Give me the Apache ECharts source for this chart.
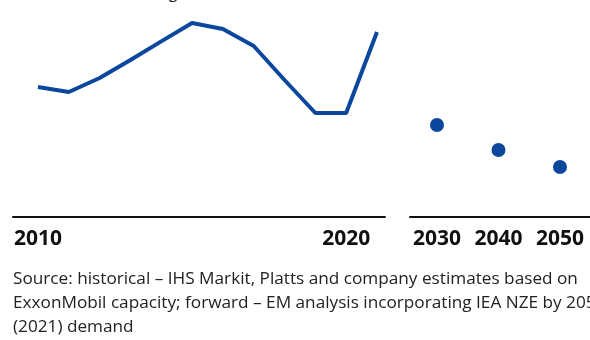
<!DOCTYPE html>
<html>
<head>
<meta charset="utf-8">
<script src="https://cdn.jsdelivr.net/npm/echarts@6/dist/echarts.min.js"></script>
<style>
  html, body { margin: 0; padding: 0; background: #fff; }
  #chart { width: 590px; height: 340px; }
</style>
</head>
<body>
<div id="chart"></div>
<script>
// Historical years and index values (2010–2021)
const histYears = [2010, 2011, 2012, 2013, 2014, 2015, 2016, 2017, 2018, 2019, 2020, 2021];
const histValues = [65, 62.5, 69.5, 78.5, 87.8, 97, 94, 85.5, 68.5, 52, 52, 92.5];

// Forward outlook points
const fwdYears = [2030, 2040, 2050];
const fwdValues = [46, 33.5, 25];

// Tick labels shown under each panel
const histTicks = [2010, 2020];
const fwdTicks = [2030, 2040, 2050];

const titleText = 'Chemical margin outlook, 2010–2050';
const sourceLines = [
  'Source: historical – IHS Markit, Platts and company estimates based on',
  'ExxonMobil capacity; forward – EM analysis incorporating IEA NZE by 2050',
  '(2021) demand'
];

const BLUE = '#0b479d';
const FONT = '"Open Sans", "Noto Sans", sans-serif';

function xAxisFor(gridIndex, min, max, ticks) {
  return {
    type: 'value',
    gridIndex: gridIndex,
    min: min,
    max: max,
    axisLine: { show: true, onZero: false, lineStyle: { color: '#111', width: 2 } },
    axisTick: { show: false },
    splitLine: { show: false },
    axisLabel: {
      customValues: ticks,
      margin: 12,
      color: '#111',
      fontSize: 21,
      fontWeight: 'bold',
      fontFamily: FONT,
      formatter: v => String(v)
    }
  };
}

function yAxisFor(gridIndex) {
  return {
    type: 'value',
    gridIndex: gridIndex,
    min: 0,
    max: 100,
    show: false
  };
}

const chart = echarts.init(document.getElementById('chart'), null, { renderer: 'canvas' });

chart.setOption({
  animation: false,
  backgroundColor: '#fff',
  grid: [
    { left: 13, width: 372, top: 17, height: 200 },
    { left: 410, width: 180, top: 17, height: 200 }
  ],
  xAxis: [
    xAxisFor(0, 2009.189, 2021.26, histTicks),
    xAxisFor(1, 2025.61, 2054.88, fwdTicks)
  ],
  yAxis: [yAxisFor(0), yAxisFor(1)],
  series: [
    {
      type: 'line',
      xAxisIndex: 0,
      yAxisIndex: 0,
      data: histYears.map((y, i) => [y, histValues[i]]),
      showSymbol: false,
      lineStyle: { color: BLUE, width: 4 },
      itemStyle: { color: BLUE }
    },
    {
      type: 'scatter',
      xAxisIndex: 1,
      yAxisIndex: 1,
      data: fwdYears.map((y, i) => [y, fwdValues[i]]),
      symbol: 'circle',
      symbolSize: 14,
      itemStyle: { color: BLUE, opacity: 1 }
    }
  ],
  graphic: [
    {
      type: 'text',
      left: 66,
      top: -15,
      style: {
        text: titleText,
        font: '16px ' + FONT,
        fill: '#111'
      }
    },
    {
      type: 'text',
      left: 13,
      top: 267,
      style: {
        text: sourceLines.join('\n'),
        font: '17.2px ' + FONT,
        lineHeight: 24,
        fill: '#222'
      }
    }
  ]
});
</script>
</body>
</html>
